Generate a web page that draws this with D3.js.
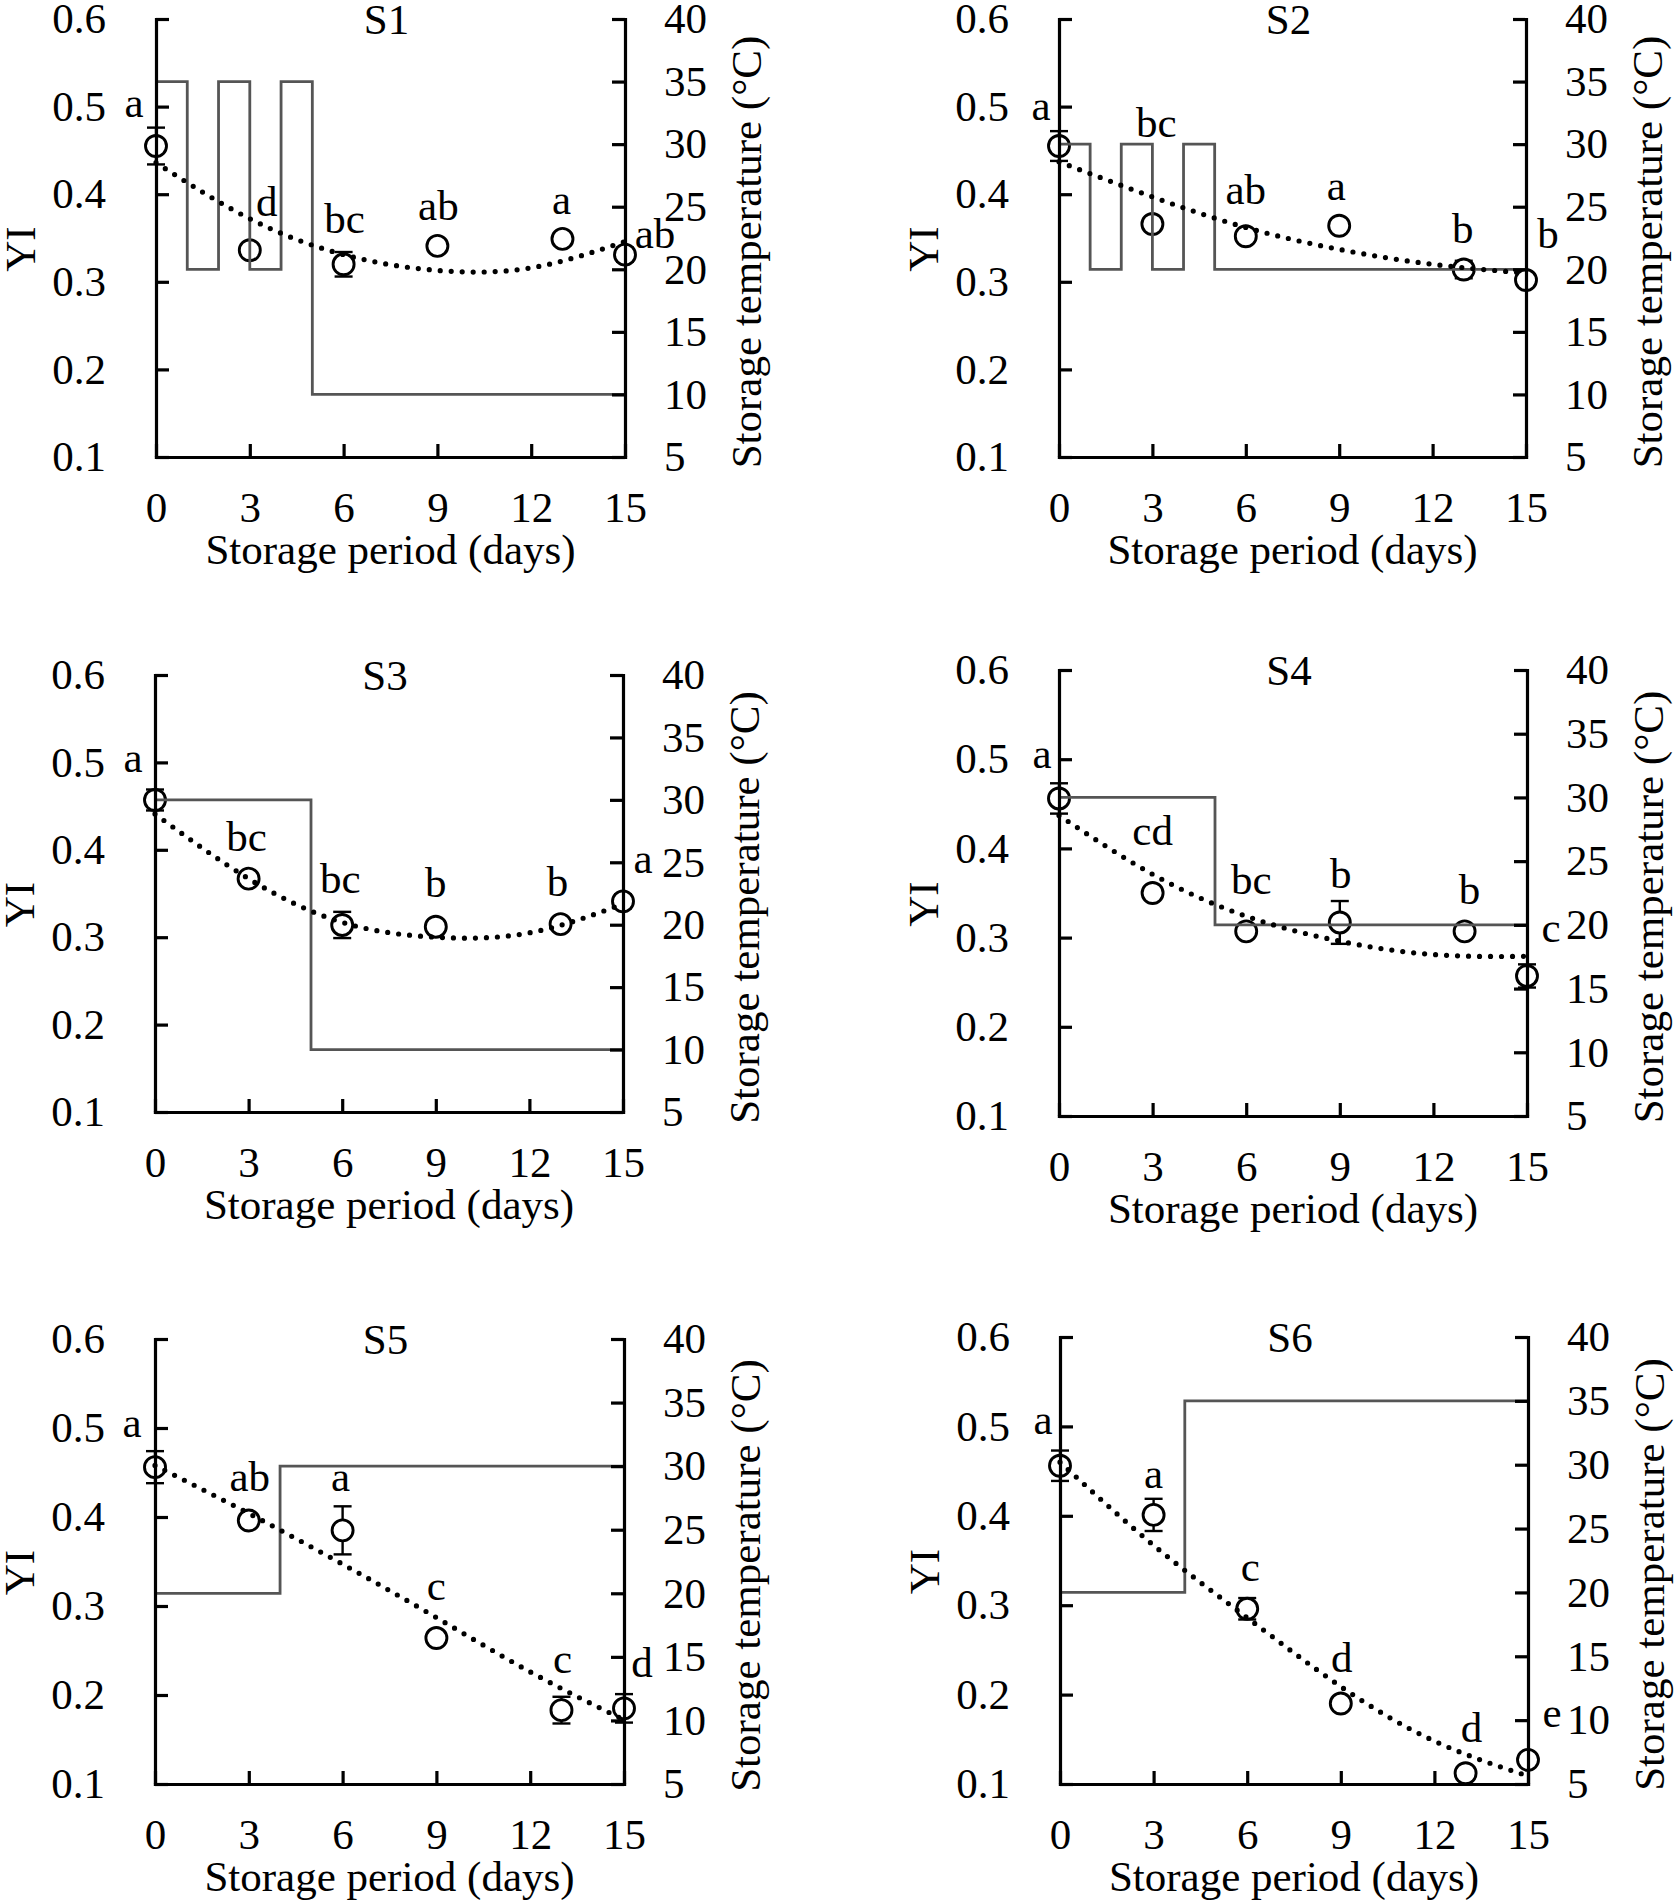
<!DOCTYPE html>
<html><head><meta charset="utf-8">
<script src="https://cdn.jsdelivr.net/npm/d3@7"></script>
<style>
body{margin:0;background:#fff}
svg text{font-family:"Liberation Serif","Times New Roman",serif;}
</style>
</head><body>
<svg id="c" width="1678" height="1903"></svg>
<script>
// ---------- data ----------
const days = [0, 3, 6, 9, 13, 15];
const fitDays = [0, 3, 6, 9, 12, 15];
const xTicks = [0, 3, 6, 9, 12, 15];
const yiTicks = [0.1, 0.2, 0.3, 0.4, 0.5, 0.6];
const tempTicks = [5, 10, 15, 20, 25, 30, 35, 40];
const panelNames = ["S1", "S2", "S3", "S4", "S5", "S6"];

const yiS1 = [0.455, 0.336, 0.320, 0.341, 0.349, 0.331];
const errS1 = [0.021, 0.006, 0.014, 0.006, 0.006, 0.008];
const letS1 = ["a", "d", "bc", "ab", "a", "ab"];
const fitS1 = [0.436, 0.372, 0.331, 0.313, 0.316, 0.346];
const stepDaysS1 = [0, 1, 2, 3, 4, 5, 15];
const stepTempS1 = [35, 20, 35, 20, 35, 10, 10];

const yiS2 = [0.455, 0.366, 0.352, 0.364, 0.314, 0.302];
const errS2 = [0.017, 0.006, 0.006, 0.006, 0.010, 0.006];
const letS2 = ["a", "bc", "ab", "a", "b", "b"];
const fitS2 = [0.437, 0.397, 0.362, 0.337, 0.320, 0.310];
const stepDaysS2 = [0, 1, 2, 3, 4, 5, 15];
const stepTempS2 = [30, 20, 30, 20, 30, 20, 20];

const yiS3 = [0.457, 0.367, 0.314, 0.312, 0.315, 0.341];
const errS3 = [0.012, 0.005, 0.015, 0.006, 0.005, 0.008];
const letS3 = ["a", "bc", "bc", "b", "b", "a"];
const fitS3 = [0.441, 0.367, 0.317, 0.300, 0.305, 0.338];
const stepDaysS3 = [0, 5, 15];
const stepTempS3 = [30, 10, 10];

const yiS4 = [0.456, 0.350, 0.307, 0.317, 0.307, 0.257];
const errS4 = [0.017, 0.005, 0.006, 0.024, 0.005, 0.013];
const letS4 = ["a", "cd", "bc", "b", "b", "c"];
const fitS4 = [0.437, 0.371, 0.324, 0.296, 0.281, 0.279];
const stepDaysS4 = [0, 5, 15];
const stepTempS4 = [30, 20, 20];

const yiS5 = [0.456, 0.396, 0.385, 0.264, 0.183, 0.185];
const errS5 = [0.018, 0.006, 0.027, 0.006, 0.015, 0.016];
const letS5 = ["a", "ab", "a", "c", "c", "d"];
const fitS5 = [0.458, 0.404, 0.347, 0.287, 0.226, 0.172];
const stepDaysS5 = [0, 4, 15];
const stepTempS5 = [20, 30, 30];

const yiS6 = [0.456, 0.401, 0.296, 0.190, 0.112, 0.127];
const errS6 = [0.017, 0.018, 0.012, 0.005, 0.005, 0.006];
const letS6 = ["a", "a", "c", "d", "d", "e"];
const fitS6 = [0.460, 0.367, 0.286, 0.209, 0.148, 0.109];
const stepDaysS6 = [0, 4, 15];
const stepTempS6 = [20, 35, 35];

// ---------- layout (pixels) ----------
const plotBox = {
  S1: [156, 19, 625, 457],  S2: [1059, 19, 1526, 457],
  S3: [155, 675, 623, 1112], S4: [1059, 670, 1527, 1116],
  S5: [155, 1339, 624, 1784], S6: [1060, 1337, 1528, 1784]
};
const labelDx = {
  S1: [-22, 17, 1, 1, -1, 30], S2: [-18, 4, 0, -3, -1, 22],
  S3: [-22, -2, -2, 0, -3, 20], S4: [-17, 0, 5, 1, 5, 24],
  S5: [-23, 1, -2, 0, 1, 18],  S6: [-17, 0, 3, 1, 6, 24]
};
const labelDy = {
  S1: [-29, -34, -31, -26, -25, -7], S2: [-26, -87, -32, -26, -27, -32],
  S3: [-28, -28, -32, -30, -28, -28], S4: [-30, -48, -37, -34, -27, -34],
  S5: [-30, -30, -39, -38, -37, -31], S6: [-32, -27, -28, -32, -31, -33]
};

const series = {
  S1: {yi: yiS1, err: errS1, lab: letS1, fit: fitS1, sd: stepDaysS1, st: stepTempS1},
  S2: {yi: yiS2, err: errS2, lab: letS2, fit: fitS2, sd: stepDaysS2, st: stepTempS2},
  S3: {yi: yiS3, err: errS3, lab: letS3, fit: fitS3, sd: stepDaysS3, st: stepTempS3},
  S4: {yi: yiS4, err: errS4, lab: letS4, fit: fitS4, sd: stepDaysS4, st: stepTempS4},
  S5: {yi: yiS5, err: errS5, lab: letS5, fit: fitS5, sd: stepDaysS5, st: stepTempS5},
  S6: {yi: yiS6, err: errS6, lab: letS6, fit: fitS6, sd: stepDaysS6, st: stepTempS6}
};

const FS = 43;
const FONT = '"Liberation Serif","Times New Roman",serif';
const svg = d3.select("#c");

panelNames.forEach(name => {
  const [x0, y0, x1, y1] = plotBox[name];
  const s = series[name];
  const g = svg.append("g");
  const x = d3.scaleLinear().domain([0, 15]).range([x0, x1]);
  const y = d3.scaleLinear().domain([0.1, 0.6]).range([y1, y0]);
  const t = d3.scaleLinear().domain([5, 40]).range([y1, y0]);

  // error bars
  const eb = g.append("g").attr("stroke", "#000").attr("stroke-width", 2.4);
  days.forEach((d, i) => {
    const cx = x(d), e = s.err[i], v = s.yi[i];
    eb.append("line").attr("x1", cx).attr("x2", cx).attr("y1", y(v - e)).attr("y2", y(v + e));
    [v - e, v + e].forEach(w => eb.append("line").attr("x1", cx - 9).attr("x2", cx + 9).attr("y1", y(w)).attr("y2", y(w)));
  });

  // circles
  g.append("g").selectAll("circle").data(days).join("circle")
    .attr("cx", d => x(d)).attr("cy", (d, i) => y(s.yi[i])).attr("r", 10.5)
    .attr("fill", "#fff").attr("stroke", "#000").attr("stroke-width", 2.9);

  // temperature step line
  const stepLine = d3.line().x(d => x(d[0])).y(d => t(d[1])).curve(d3.curveStepAfter);
  g.append("path").attr("d", stepLine(s.sd.map((d, i) => [d, s.st[i]])))
    .attr("fill", "none").attr("stroke", "#555").attr("stroke-width", 2.8);

  // dotted fit
  const fitLine = d3.line().x(d => x(d[0])).y(d => y(d[1])).curve(d3.curveNatural);
  g.append("path").attr("d", fitLine(fitDays.map((d, i) => [d, s.fit[i]])))
    .attr("fill", "none").attr("stroke", "#000").attr("stroke-width", 5.2)
    .attr("stroke-linecap", "round").attr("stroke-dasharray", "0 11");

  // significance letters
  g.append("g").selectAll("text").data(days).join("text")
    .attr("x", (d, i) => x(d) + labelDx[name][i])
    .attr("y", (d, i) => y(s.yi[i]) + labelDy[name][i])
    .attr("text-anchor", "middle").attr("font-size", FS).attr("font-family", FONT)
    .text((d, i) => s.lab[i]);

  // axes
  const styleAxis = a => {
    a.attr("font-size", FS).attr("font-family", FONT);
    a.selectAll("path,line").attr("stroke", "#000").attr("stroke-width", 3.2);
    a.select("path.domain").attr("stroke-linecap", "square");
    a.selectAll("text").attr("fill", "#000");
  };
  const aL = g.append("g").attr("transform", `translate(${x0},0)`)
    .call(d3.axisLeft(y).tickValues(yiTicks).tickFormat(d3.format(".1f")).tickSize(-13).tickSizeOuter(0).tickPadding(50));
  styleAxis(aL);
  const aR = g.append("g").attr("transform", `translate(${x1},0)`)
    .call(d3.axisRight(t).tickValues(tempTicks).tickFormat(d3.format("d")).tickSize(-13).tickSizeOuter(0).tickPadding(39));
  styleAxis(aR);
  const aB = g.append("g").attr("transform", `translate(0,${y1})`)
    .call(d3.axisBottom(x).tickValues(xTicks).tickFormat(d3.format("d")).tickSize(-13).tickSizeOuter(0).tickPadding(34));
  styleAxis(aB);

  // titles
  const cx = (x0 + x1) / 2, cy = (y0 + y1) / 2;
  g.append("text").attr("x", cx - 4).attr("y", y0 + 15).attr("text-anchor", "middle")
    .attr("font-size", FS).attr("font-family", FONT).text(name);
  g.append("text").attr("transform", `translate(${x0 - 121},${cy + 11}) rotate(-90)`)
    .attr("text-anchor", "middle").attr("font-size", FS).attr("font-family", FONT).text("YI");
  g.append("text").attr("transform", `translate(${x1 + 136},${cy + 14}) rotate(-90)`)
    .attr("text-anchor", "middle").attr("font-size", FS).attr("font-family", FONT).text("Storage temperature (°C)");
  g.append("text").attr("x", cx).attr("y", y1 + 107).attr("text-anchor", "middle")
    .attr("font-size", FS).attr("font-family", FONT).text("Storage period (days)");
});
</script>
</body></html>
